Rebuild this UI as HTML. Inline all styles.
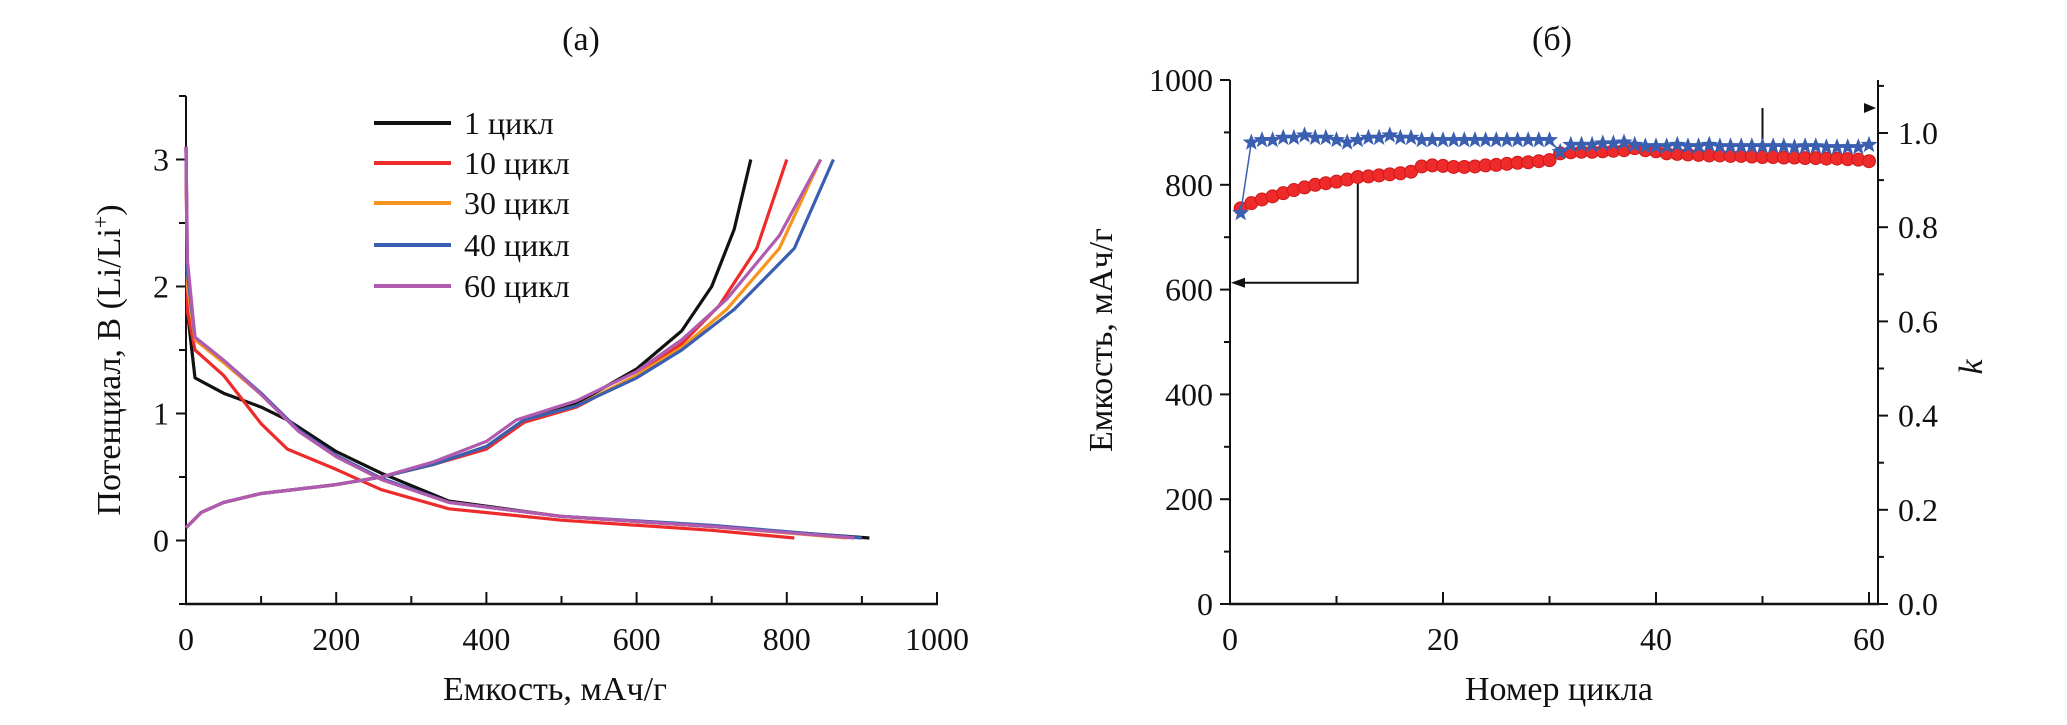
<!DOCTYPE html>
<html><head><meta charset="utf-8"><style>
body{margin:0;background:#fff;width:2067px;height:720px;overflow:hidden}
svg text{font-family:"Liberation Serif",serif;fill:#111}
</style></head><body>
<svg id="fig" width="2067" height="720" viewBox="0 0 2067 720" xmlns="http://www.w3.org/2000/svg">
<g id="A"></g>
<g id="B"></g>
</svg>
<script>
// ---- Panel (a) data ----
const xTicksA=[0,200,400,600,800,1000];
const yTicksA=[0,1,2,3];
const seriesNames=["1 цикл","10 цикл","30 цикл","40 цикл","60 цикл"];
const seriesColors=["#111111","#ee2b2b","#f7941d","#3a5fb0","#b05bb0"];
const dis1=[[0,3.1],[2,1.8],[12,1.28],[50,1.16],[100,1.05],[135,0.95],[200,0.7],[260,0.53],[350,0.31],[500,0.19],[700,0.11],[910,0.02]];
const dis10=[[0,3.1],[2,1.8],[12,1.5],[50,1.3],[100,0.92],[135,0.72],[200,0.56],[260,0.4],[350,0.25],[500,0.16],[700,0.08],[810,0.02]];
const dis30=[[0,3.1],[2,2.0],[12,1.58],[50,1.4],[100,1.15],[150,0.86],[200,0.66],[260,0.48],[350,0.3],[500,0.19],[700,0.11],[880,0.02]];
const dis40=[[0,3.1],[2,2.1],[12,1.6],[50,1.42],[100,1.16],[150,0.87],[200,0.67],[260,0.49],[350,0.3],[500,0.19],[700,0.12],[900,0.02]];
const dis60=[[0,3.1],[2,2.2],[12,1.6],[50,1.42],[100,1.15],[150,0.86],[200,0.66],[260,0.48],[350,0.3],[500,0.19],[700,0.11],[890,0.02]];
const ch1=[[0,0.1],[20,0.22],[50,0.3],[100,0.37],[200,0.44],[260,0.5],[330,0.6],[400,0.74],[450,0.95],[520,1.08],[600,1.35],[660,1.65],[700,2.0],[730,2.45],[752,3.0]];
const ch10=[[0,0.1],[20,0.22],[50,0.3],[100,0.37],[200,0.44],[260,0.5],[330,0.6],[400,0.72],[450,0.93],[520,1.05],[600,1.3],[660,1.55],[710,1.85],[760,2.3],[800,3.0]];
const ch30=[[0,0.1],[20,0.22],[50,0.3],[100,0.37],[200,0.44],[260,0.5],[330,0.6],[400,0.74],[450,0.95],[520,1.06],[600,1.3],[660,1.52],[720,1.82],[790,2.3],[845,3.0]];
const ch40=[[0,0.1],[20,0.22],[50,0.3],[100,0.37],[200,0.44],[260,0.5],[330,0.6],[400,0.74],[450,0.95],[520,1.06],[600,1.28],[660,1.5],[730,1.82],[810,2.3],[862,3.0]];
const ch60=[[0,0.1],[20,0.22],[50,0.3],[100,0.37],[200,0.44],[260,0.5],[330,0.62],[400,0.78],[440,0.95],[520,1.1],[600,1.33],[660,1.58],[720,1.9],[790,2.4],[845,3.0]];
// ---- Panel (b) data ----
const cycles=[];for(let i=1;i<=60;i++)cycles.push(i);
const capacity=[755,765,772,778,784,790,795,800,803,806,810,815,816,818,820,822,825,835,837,836,834,834,835,837,838,840,842,843,845,847,860,862,863,863,864,865,866,870,866,864,860,859,858,857,856,856,855,855,854,853,853,852,852,851,851,850,850,849,848,845];
const kVals=[0.83,0.98,0.985,0.985,0.99,0.99,0.995,0.99,0.99,0.985,0.98,0.985,0.99,0.99,0.995,0.99,0.99,0.985,0.985,0.985,0.985,0.985,0.985,0.985,0.985,0.985,0.985,0.985,0.985,0.985,0.96,0.975,0.975,0.975,0.978,0.978,0.98,0.975,0.972,0.972,0.972,0.975,0.972,0.972,0.975,0.972,0.972,0.972,0.972,0.972,0.972,0.972,0.97,0.972,0.972,0.97,0.97,0.97,0.97,0.975];
const xTicksB=[0,20,40,60];
const yTicksB=[0,200,400,600,800,1000];
const kTicks=[0.0,0.2,0.4,0.6,0.8,1.0];

const NS="http://www.w3.org/2000/svg";
function mk(p,tag,at,txt){const e=document.createElementNS(NS,tag);for(const k in at)e.setAttribute(k,at[k]);if(txt!==undefined)e.textContent=txt;p.appendChild(e);return e;}

// ---------- Panel A ----------
const A=document.getElementById('A');
const ax=v=>186+v*(937-186)/1000;
const ay=v=>604-(v+0.5)*127;
let e;
e=mk(A,'text',{x:581,y:50,'font-size':34,'text-anchor':'middle'},'(a)');

e=mk(A,'line',{x1:186,y1:96,x2:186,y2:604,stroke:'#111','stroke-width':2});

e=mk(A,'line',{x1:185,y1:604,x2:938,y2:604,stroke:'#111','stroke-width':2.5});

for(let v=0;v<=1000;v+=100){const major=v%200===0;
 e=mk(A,'line',{x1:ax(v),y1:604,x2:ax(v),y2:604-(major?12:8),stroke:'#111','stroke-width':2});
 }
xTicksA.forEach(v=>{e=mk(A,'text',{x:ax(v),y:650,'font-size':32,'text-anchor':'middle'},String(v));
 });
for(let v=-0.5;v<=3.5;v+=0.5){const major=Number.isInteger(v);
 e=mk(A,'line',{x1:186,y1:ay(v),x2:186-(major?10:7),y2:ay(v),stroke:'#111','stroke-width':2});
 }
yTicksA.forEach(v=>{e=mk(A,'text',{x:169,y:ay(v)+11,'font-size':32,'text-anchor':'end'},String(v));
 });
e=mk(A,'text',{x:555,y:700,'font-size':34,'text-anchor':'middle'},'Емкость, мАч/г');

e=mk(A,'text',{transform:'translate(120,360) rotate(-90)','font-size':34,'text-anchor':'middle'});

e.innerHTML='Потенциал,  В (Li/Li<tspan dy="-12" font-size="22">+</tspan><tspan dy="12">)</tspan>';
const dis=[dis1,dis10,dis30,dis40,dis60], chs=[ch1,ch10,ch30,ch40,ch60];
const order=[0,1,2,3,4];
order.forEach(i=>{
 [dis[i],chs[i]].forEach((d,j)=>{
  e=mk(A,'polyline',{points:d.map(p=>ax(p[0]).toFixed(1)+','+ay(p[1]).toFixed(1)).join(' '),fill:'none',stroke:seriesColors[i],'stroke-width':3.2,'stroke-linejoin':'round'});
  
  
 });
});
const legY=[123,163,203,245,286];
seriesNames.forEach((n,i)=>{
 const g=mk(A,'g',{});
 
 mk(g,'line',{x1:374,y1:legY[i],x2:451,y2:legY[i],stroke:seriesColors[i],'stroke-width':4});
 mk(g,'text',{x:464,y:legY[i]+11,'font-size':32},n);
});

// ---------- Panel B ----------
const B=document.getElementById('B');
const bx=v=>1230+v*(1869-1230)/60;
const by=v=>604-v*(604-80)/1000;
const bk=v=>604-v*(604-133);
e=mk(B,'text',{x:1552,y:50,'font-size':34,'text-anchor':'middle'},'(б)');

e=mk(B,'line',{x1:1230,y1:80,x2:1230,y2:604,stroke:'#111','stroke-width':2});

e=mk(B,'line',{x1:1878,y1:80,x2:1878,y2:604,stroke:'#111','stroke-width':2});

e=mk(B,'line',{x1:1229,y1:604,x2:1879,y2:604,stroke:'#111','stroke-width':2.5});

for(let v=0;v<=60;v+=10){
 e=mk(B,'line',{x1:bx(v),y1:604,x2:bx(v),y2:604-(v%20===0?12:8),stroke:'#111','stroke-width':2});
 }
xTicksB.forEach(v=>{e=mk(B,'text',{x:bx(v),y:650,'font-size':32,'text-anchor':'middle'},String(v));
 });
for(let v=0;v<=1000;v+=100){
 e=mk(B,'line',{x1:1230,y1:by(v),x2:1230-(v%200===0?10:6),y2:by(v),stroke:'#111','stroke-width':2});
 }
yTicksB.forEach(v=>{e=mk(B,'text',{x:1213,y:by(v)+11,'font-size':32,'text-anchor':'end'},String(v));
 });
for(let i=0;i<=11;i++){const v=i/10;
 e=mk(B,'line',{x1:1878,y1:bk(v),x2:1878+(i%2===0?10:6),y2:bk(v),stroke:'#111','stroke-width':2});
 }
kTicks.forEach(v=>{e=mk(B,'text',{x:1898,y:bk(v)+11,'font-size':32},v.toFixed(1));
 });
e=mk(B,'text',{x:1559,y:700,'font-size':34,'text-anchor':'middle'},'Номер цикла');

e=mk(B,'text',{transform:'translate(1112,340) rotate(-90)','font-size':34,'text-anchor':'middle'},'Емкость, мАч/г');

e=mk(B,'text',{transform:'translate(1982,367) rotate(-90)','font-size':34,'font-style':'italic','text-anchor':'middle'},'k');

// annotation arrows
e=mk(B,'polyline',{points:`${bx(12)},${by(capacity[11])} ${bx(12)},${by(613)} 1240,${by(613)}`,fill:'none',stroke:'#111','stroke-width':2});

e=mk(B,'polygon',{points:`1231,${by(613)} 1245,${by(613)-5} 1245,${by(613)+5}`,fill:'#111'});

e=mk(B,'line',{x1:bx(50),y1:108,x2:bx(50),y2:bk(kVals[49])-6,stroke:'#111','stroke-width':2});

e=mk(B,'polygon',{points:'1876,108 1864,103 1864,113',fill:'#111'});

// capacity series
e=mk(B,'polyline',{points:cycles.map((c,i)=>bx(c)+','+by(capacity[i])).join(' '),fill:'none',stroke:'#e33','stroke-width':1.5});

cycles.forEach((c,i)=>{
 e=mk(B,'circle',{cx:bx(c),cy:by(capacity[i]),r:6.5,fill:'#ee2a2a',stroke:'#d01818','stroke-width':1});
 
});
// k series
e=mk(B,'polyline',{points:cycles.map((c,i)=>bx(c)+','+bk(kVals[i])).join(' '),fill:'none',stroke:'#3a5fb0','stroke-width':1.5});

function star(cx,cy,R){const r=R*0.42;let p=[];for(let i=0;i<10;i++){const a=-Math.PI/2+i*Math.PI/5;const rr=i%2?r:R;p.push((cx+rr*Math.cos(a)).toFixed(1)+','+(cy+rr*Math.sin(a)).toFixed(1));}return p.join(' ');}
cycles.forEach((c,i)=>{
 e=mk(B,'polygon',{points:star(bx(c),bk(kVals[i]),9),fill:'#3a5fb0'});
 
});
</script>
</body></html>
